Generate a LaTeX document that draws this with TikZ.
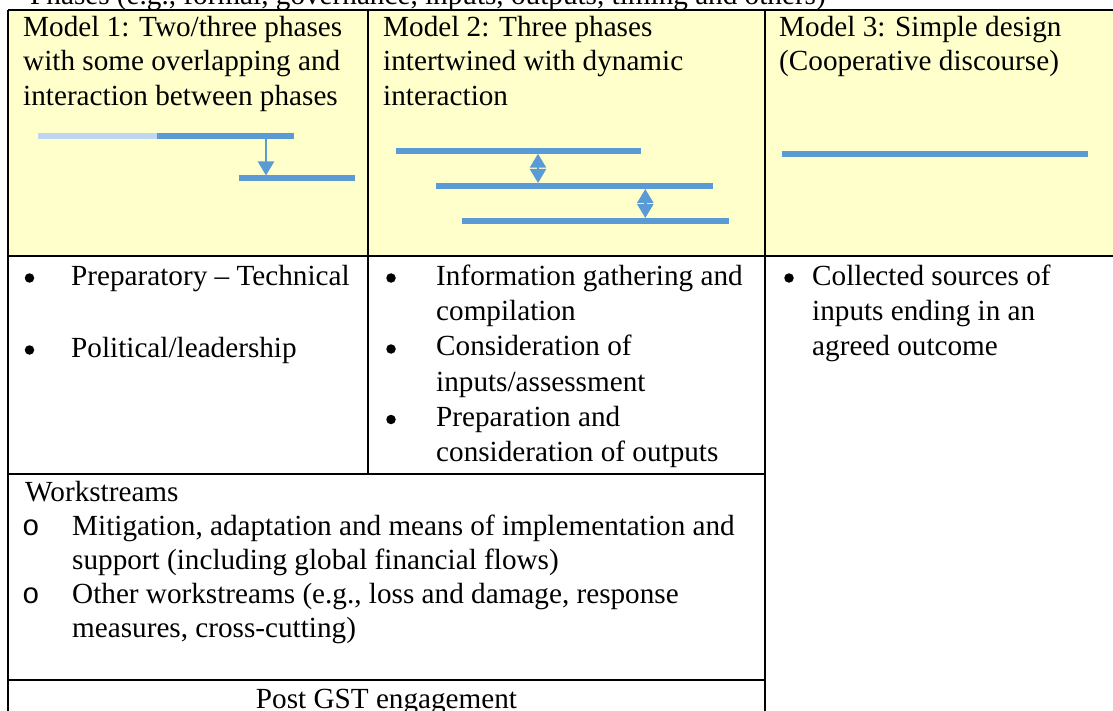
\documentclass[tikz,border=0pt]{standalone}
\usepackage{fontspec}
\setmainfont{Liberation Serif}
\newfontfamily\bulletmono{Liberation Mono}
\usetikzlibrary{arrows.meta}
\definecolor{hdr}{HTML}{FFFFCC}
\definecolor{phase}{HTML}{5B9BD5}
\definecolor{phaselt}{HTML}{BDD7EE}
\begin{document}
\begin{tikzpicture}[x=1pt,y=-1pt,
  txt/.style={anchor=base west,inner sep=0pt,font=\fontsize{29.2}{34}\selectfont},
  ctxt/.style={anchor=base,inner sep=0pt,font=\fontsize{29.2}{34}\selectfont},
  obul/.style={anchor=base west,inner sep=0pt,font=\bulletmono\fontsize{29.2}{34}\selectfont},
  dot/.style={circle,fill=black,inner sep=0pt,minimum size=9.5pt},
  grid/.style={line width=2pt,black},
  bar/.style={line width=6pt,phase},
  barlt/.style={line width=6pt,phaselt},
  link/.style={line width=2.5pt,phase},
  tipdown/.style={-{Triangle[width=16pt,length=14pt]}},
  tipboth/.style={{Triangle[width=16pt,length=14pt]}-{Triangle[width=16pt,length=14pt]}}
]
\useasboundingbox (0,0) rectangle (1113,711);
\clip (0,0) rectangle (1113,711);
% background
\fill[white] (0,0) rectangle (1113,711);
\fill[hdr] (8,10) rectangle (1120,256.5);

% cut-off caption above the table
\node[txt] (caption) at (30,5) {Phases (e.g., formal, governance, inputs, outputs, timing and others)};

% table grid
\coordinate (tl) at (8,10);
\coordinate (tr) at (1120,10);
\coordinate (bl) at (8,720);
\coordinate (hl) at (8,256.5);
\coordinate (hr) at (1120,256.5);
\coordinate (d1t) at (368,10);
\coordinate (d1b) at (368,474);
\coordinate (d2t) at (765,10);
\coordinate (d2b) at (765,720);
\coordinate (r2l) at (8,474);
\coordinate (r2r) at (765,474);
\coordinate (r3l) at (8,680);
\coordinate (r3r) at (765,680);
\draw[grid] (tl) -- (tr);
\draw[grid] (tl) -- (bl);
\draw[grid] (hl) -- (hr);
\draw[grid] (d1t) -- (d1b);
\draw[grid] (d2t) -- (d2b);
\draw[grid] (r2l) -- (r2r);
\draw[grid] (r3l) -- (r3r);

% header texts
\node[txt] (h1a) at (23,36.7) {Model 1: Two/three phases};
\node[txt] (h1b) at (23,70.9) {with some overlapping and};
\node[txt] (h1c) at (23,105.1) {interaction between phases};
\node[txt] (h2a) at (383,36.7) {Model 2: Three phases};
\node[txt] (h2b) at (383,70.9) {intertwined with dynamic};
\node[txt] (h2c) at (383,105.1) {interaction};
\node[txt] (h3a) at (779,36.7) {Model 3: Simple design};
\node[txt] (h3b) at (779,70.9) {(Cooperative discourse)};

% model 1 sketch
\coordinate (m1a) at (37.7,136);
\coordinate (m1b) at (157,136);
\coordinate (m1c) at (294,136);
\coordinate (m1d) at (239,177.7);
\coordinate (m1e) at (355,177.7);
\coordinate (m1s) at (266,139);
\coordinate (m1t) at (266,175.5);
\draw[barlt] (m1a) -- (m1b);
\draw[bar] (m1b) -- (m1c);
\draw[bar] (m1d) -- (m1e);
\draw[link,tipdown] (m1s) -- (m1t);

% model 2 sketch
\coordinate (m2a) at (396,150.7);
\coordinate (m2b) at (640.7,150.7);
\coordinate (m2c) at (436,186);
\coordinate (m2d) at (712.7,186);
\coordinate (m2e) at (462,221);
\coordinate (m2f) at (729,221);
\draw[bar] (m2a) -- (m2b);
\draw[bar] (m2c) -- (m2d);
\draw[bar] (m2e) -- (m2f);
\coordinate (m2u1) at (538,153.7);
\coordinate (m2l1) at (538,183);
\coordinate (m2u2) at (645.3,189);
\coordinate (m2l2) at (645.3,218);
\draw[link,tipboth] (m2u1) -- (m2l1);
\draw[link,tipboth] (m2u2) -- (m2l2);

% model 3 sketch
\coordinate (m3a) at (782,153.7);
\coordinate (m3b) at (1088,153.7);
\draw[bar] (m3a) -- (m3b);

% row 2, column 1
\node[dot] (b11) at (29.5,278) {};
\node[txt] (t11) at (71,285) {Preparatory -- Technical};
\node[dot] (b12) at (29.5,350) {};
\node[txt] (t12) at (71,357) {Political/leadership};

% row 2, column 2
\node[dot] (b21) at (391,278) {};
\node[txt] (t21a) at (436,285) {Information gathering and};
\node[txt] (t21b) at (436,320.3) {compilation};
\node[dot] (b22) at (391,349) {};
\node[txt] (t22a) at (436,355.7) {Consideration of};
\node[txt] (t22b) at (436,391) {inputs/assessment};
\node[dot] (b23) at (391,419.5) {};
\node[txt] (t23a) at (436,426.3) {Preparation and};
\node[txt] (t23b) at (436,461.6) {consideration of outputs};

% row 2, column 3
\node[dot] (b31) at (789,278) {};
\node[txt] (t31a) at (812,285) {Collected sources of};
\node[txt] (t31b) at (812,320.3) {inputs ending in an};
\node[txt] (t31c) at (812,355.7) {agreed outcome};

% workstreams
\node[txt] (w0) at (25,501.5) {Workstreams};
\node[obul] (wb1) at (22,535.5) {o};
\node[txt] (w1a) at (72,535.5) {Mitigation, adaptation and means of implementation and};
\node[txt] (w1b) at (72,569.5) {support (including global financial flows)};
\node[obul] (wb2) at (22,603.5) {o};
\node[txt] (w2a) at (72,603.5) {Other workstreams (e.g., loss and damage, response};
\node[txt] (w2b) at (72,637.5) {measures, cross-cutting)};

% post GST
\node[ctxt] (post) at (386.5,708) {Post GST engagement};
\end{tikzpicture}
\end{document}
